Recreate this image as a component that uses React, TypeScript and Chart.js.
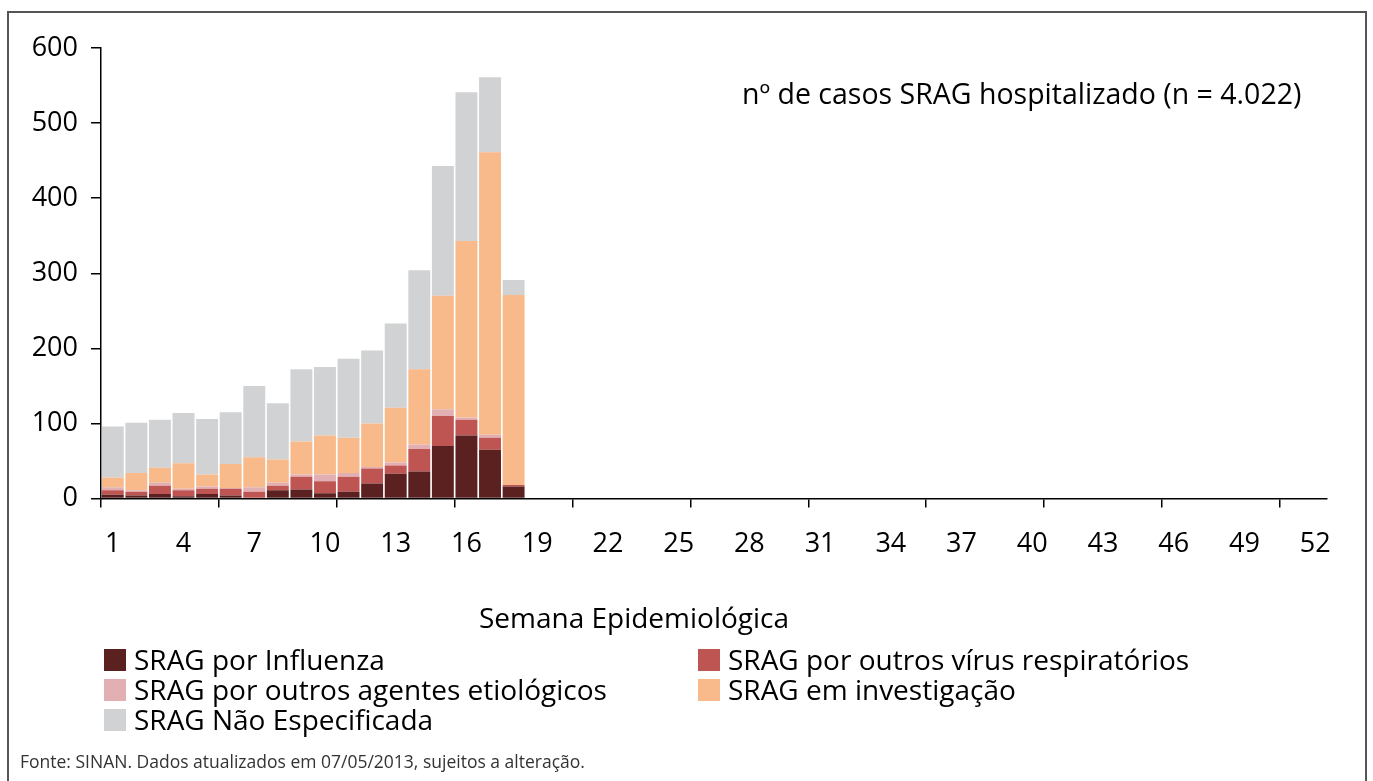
import React, { useEffect, useRef } from "react";
import { Chart, registerables } from "chart.js";

Chart.register(...registerables);

const weeks: string[] = Array.from({ length: 52 }, (_, i) => String(i + 1));

const influenza = [5, 4, 6, 3, 6, 4, 1, 11, 12, 7, 9, 20, 33, 36, 70, 84, 65, 16];
const outrosVirus = [6, 5, 11, 8, 7, 9, 8, 6, 17, 16, 20, 20, 11, 30, 40, 21, 16, 2];
const outrosAgentes = [4, 2, 4, 2, 3, 1, 6, 4, 3, 9, 5, 2, 4, 6, 9, 3, 4, 0];
const investigacao = [13, 23, 20, 34, 16, 32, 40, 31, 44, 52, 47, 58, 73, 100, 151, 235, 376, 253];
const naoEspecificada = [68, 67, 64, 67, 74, 69, 95, 75, 96, 91, 105, 97, 112, 132, 173, 198, 100, 20];

const seriesLabels = [
  "SRAG por Influenza",
  "SRAG por outros vírus respiratórios",
  "SRAG por outros agentes etiológicos",
  "SRAG em investigação",
  "SRAG Não Especificada",
];
const seriesColors = ["#5B2020", "#BE5553", "#E2B0B2", "#F8B98B", "#D1D2D4"];

const annotationText = "nº de casos SRAG hospitalizado (n = 4.022)";
const xTitle = "Semana Epidemiológica";
const footerText = "Fonte: SINAN. Dados atualizados em 07/05/2013, sujeitos a alteração.";

const FONT = "'Open Sans', 'Noto Sans', sans-serif";

function pad(arr: number[]): number[] {
  return weeks.map((_, i) => (i < arr.length ? arr[i] : 0));
}

const decorPlugin = {
  id: "decor",
  beforeDraw(chart: any) {
    const ctx = chart.ctx;
    ctx.save();
    ctx.fillStyle = "#ffffff";
    ctx.fillRect(0, 0, chart.width, chart.height);
    ctx.strokeStyle = "#555555";
    ctx.lineWidth = 2;
    ctx.strokeRect(8, 12, 1358, 790);
    ctx.restore();
  },
  afterDraw(chart: any) {
    const ctx = chart.ctx;
    ctx.save();
    ctx.fillStyle = "#000";
    ctx.textBaseline = "alphabetic";
    ctx.font = `28.5px ${FONT}`;
    ctx.textAlign = "left";
    ctx.fillText(annotationText, 742, 104);
    ctx.textAlign = "center";
    ctx.font = `28px ${FONT}`;
    ctx.fillText(xTitle, 634, 628);

    ctx.textAlign = "left";
    ctx.font = `28px ${FONT}`;
    const cols = [104, 698];
    const rows = [649, 679, 709];
    chart.data.datasets.forEach((ds: any, i: number) => {
      const col = cols[i % 2];
      const row = rows[Math.floor(i / 2)];
      ctx.fillStyle = ds.backgroundColor;
      ctx.fillRect(col, row, 22, 22);
      ctx.fillStyle = "#000";
      ctx.fillText(ds.label, col + 30, row + 21);
    });

    ctx.font = `17.5px ${FONT}`;
    ctx.fillStyle = "#333";
    ctx.fillText(footerText, 20, 768);
    ctx.restore();
  },
};

export default function App() {
  const ref = useRef<HTMLCanvasElement | null>(null);
  useEffect(() => {
    if (!ref.current) return;
    const seriesData = [influenza, outrosVirus, outrosAgentes, investigacao, naoEspecificada];
    const chart = new Chart(ref.current, {
      type: "bar",
      data: {
        labels: weeks,
        datasets: seriesData.map((d, i) => ({
          label: seriesLabels[i],
          data: pad(d),
          backgroundColor: seriesColors[i],
          borderWidth: 0,
          barPercentage: 0.93,
          categoryPercentage: 1,
        })),
      },
      options: {
        animation: false,
        responsive: true,
        maintainAspectRatio: false,
        layout: { padding: { left: 0, right: 46, top: 48, bottom: 0 } },
        plugins: {
          legend: { display: false },
          tooltip: { enabled: false },
          title: { display: false },
        },
        scales: {
          x: {
            stacked: true,
            afterFit: (s: any) => {
              s.height = 282.5;
            },
            grid: {
              offset: true,
              drawOnChartArea: false,
              drawTicks: true,
              tickLength: 9,
              lineWidth: 1.5,
              color: (c: any) => (c.index % 5 === 0 ? "#000" : "rgba(0,0,0,0)"),
              tickColor: (c: any) => (c.index % 5 === 0 ? "#000" : "rgba(0,0,0,0)"),
            },
            border: { display: true, color: "#000", width: 1.5 },
            ticks: {
              autoSkip: false,
              maxRotation: 0,
              minRotation: 0,
              padding: 21,
              color: "#000",
              font: { family: FONT, size: 27 },
              callback: (_v: any, idx: number) => (idx % 3 === 0 ? weeks[idx] : ""),
            },
          },
          y: {
            stacked: true,
            min: 0,
            max: 600,
            afterFit: (s: any) => {
              s.width = 101;
            },
            grid: {
              drawOnChartArea: false,
              drawTicks: true,
              tickLength: 10,
              lineWidth: 1.5,
              color: "#000",
              tickColor: "#000",
            },
            border: { display: true, color: "#000", width: 1.5 },
            ticks: {
              stepSize: 100,
              padding: 13,
              color: "#000",
              font: { family: FONT, size: 27 },
            },
          },
        },
      },
      plugins: [decorPlugin],
    });
    return () => chart.destroy();
  }, []);
  return (
    <div style={{ position: "absolute", left: 0, top: 0, width: 1373, height: 781, background: "#fff" }}>
      <canvas ref={ref} />
    </div>
  );
}
